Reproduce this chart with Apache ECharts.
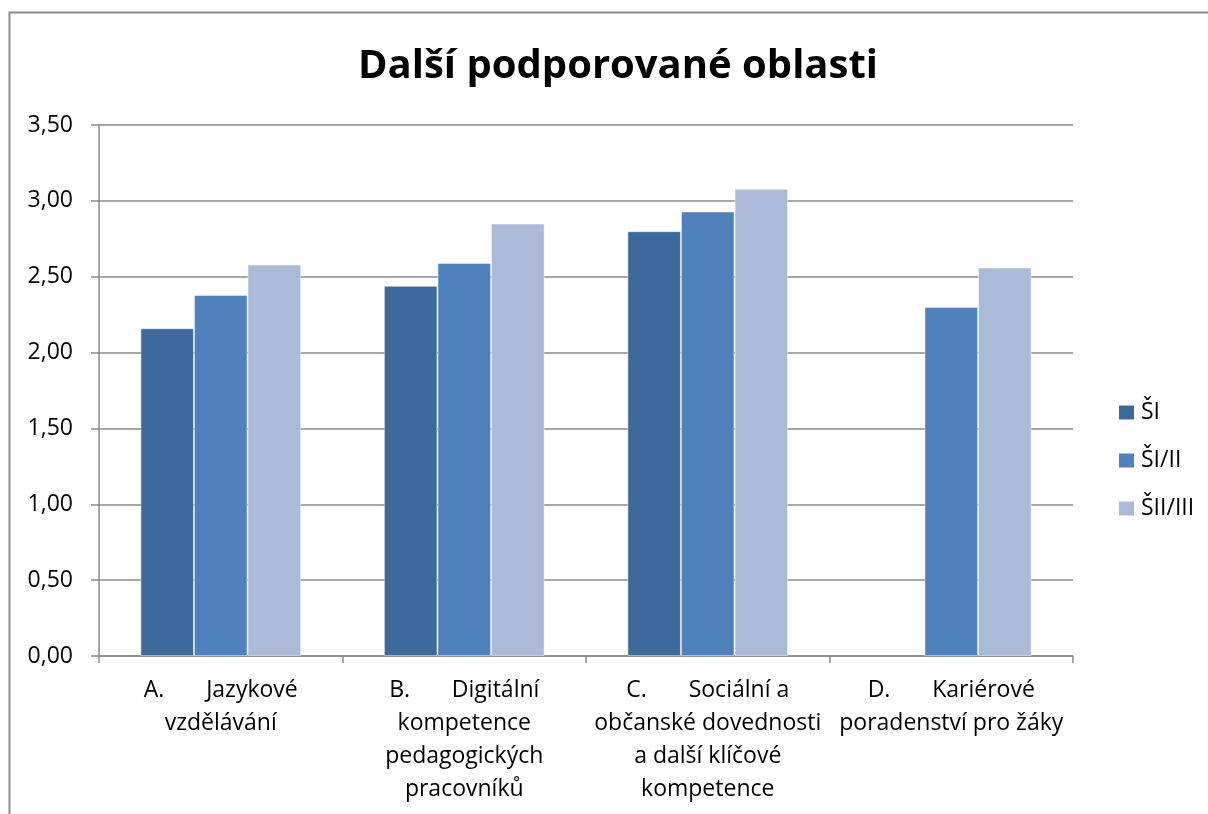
<!DOCTYPE html>
<html>
<head>
<meta charset="utf-8">
<script src="https://cdn.jsdelivr.net/npm/echarts@6/dist/echarts.min.js"></script>
<style>
    html, body { margin: 0; padding: 0; background: #fff; }
    #chart { width: 1208px; height: 814px; }
</style>
</head>
<body>
<div id="chart"></div>
<script>
    // categories (line breaks as in the original wrapped labels)
    var categories = [
        'A.       Jazykové\nvzdělávání',
        'B.       Digitální\nkompetence\npedagogických\npracovníků',
        'C.       Sociální a\nobčanské dovednosti\na další klíčové\nkompetence',
        'D.       Kariérové\nporadenství pro žáky'
    ];
    var seriesNames = ['ŠI', 'ŠI/II', 'ŠII/III'];
    var valuesSI = [2.16, 2.44, 2.80, null];
    var valuesSIII = [2.38, 2.59, 2.93, 2.30];
    var valuesSIIIII = [2.58, 2.85, 3.08, 2.56];
    var colors = ['#3e6a9b', '#4f81bd', '#aabad7'];
    var yMin = 0, yMax = 3.5, yStep = 0.5;

    var font = '"Open Sans", "Noto Sans", sans-serif';
    var gray = '#8a8a8a';

    var makeSeries = function (name, data, color) {
        return {
            name: name,
            type: 'bar',
            data: data,
            barGap: '0%',
            barCategoryGap: '34%',
            itemStyle: {
                color: color,
                borderColor: 'rgba(255,255,255,0.45)',
                borderWidth: 1
            }
        };
    };

    var myChart = echarts.init(document.getElementById('chart'));
    var option = {
        backgroundColor: '#fff',
        animation: false,
        textStyle: { fontFamily: font },
        graphic: [{
            type: 'rect',
            silent: true,
            z: -1,
            shape: { x: 9.5, y: 12.5, width: 1400, height: 1000 },
            style: { fill: 'none', stroke: gray, lineWidth: 2 }
        }],
        title: {
            text: 'Další podporované oblasti',
            left: 358,
            top: 45,
            padding: 0,
            textStyle: {
                fontFamily: font,
                fontSize: 40,
                fontWeight: 'bold',
                color: '#000',
                lineHeight: 44
            }
        },
        legend: {
            orient: 'vertical',
            left: 1114,
            top: 396,
            itemWidth: 15,
            itemHeight: 14,
            itemGap: 25,
            icon: 'rect',
            itemStyle: { borderWidth: 0 },
            data: seriesNames,
            textStyle: {
                fontFamily: font,
                fontSize: 23,
                color: '#000',
                padding: [0, 0, 0, 2]
            }
        },
        grid: {
            left: 99,
            right: 135,
            top: 125,
            bottom: 158,
            containLabel: false,
            outerBoundsMode: 'none'
        },
        xAxis: {
            type: 'category',
            data: categories,
            axisLine: { show: true, lineStyle: { color: gray, width: 1.5 } },
            axisTick: { show: true, length: 7, lineStyle: { color: gray, width: 1.5 } },
            axisLabel: {
                interval: 0,
                margin: 18,
                color: '#000',
                fontFamily: font,
                fontSize: 23,
                lineHeight: 33,
                align: 'center'
            }
        },
        yAxis: {
            type: 'value',
            min: yMin,
            max: yMax,
            interval: yStep,
            axisLine: { show: true, lineStyle: { color: gray, width: 1.5 } },
            axisTick: { show: true, length: 8, lineStyle: { color: gray, width: 1.5 } },
            splitLine: { show: true, lineStyle: { color: gray, width: 1.5 } },
            axisLabel: {
                margin: 26,
                color: '#000',
                fontFamily: font,
                fontSize: 23,
                formatter: function (v) { return v.toFixed(2).replace('.', ','); }
            }
        },
        series: [
            makeSeries(seriesNames[0], valuesSI, colors[0]),
            makeSeries(seriesNames[1], valuesSIII, colors[1]),
            makeSeries(seriesNames[2], valuesSIIIII, colors[2])
        ]
    };
    myChart.setOption(option);
</script>
</body>
</html>
